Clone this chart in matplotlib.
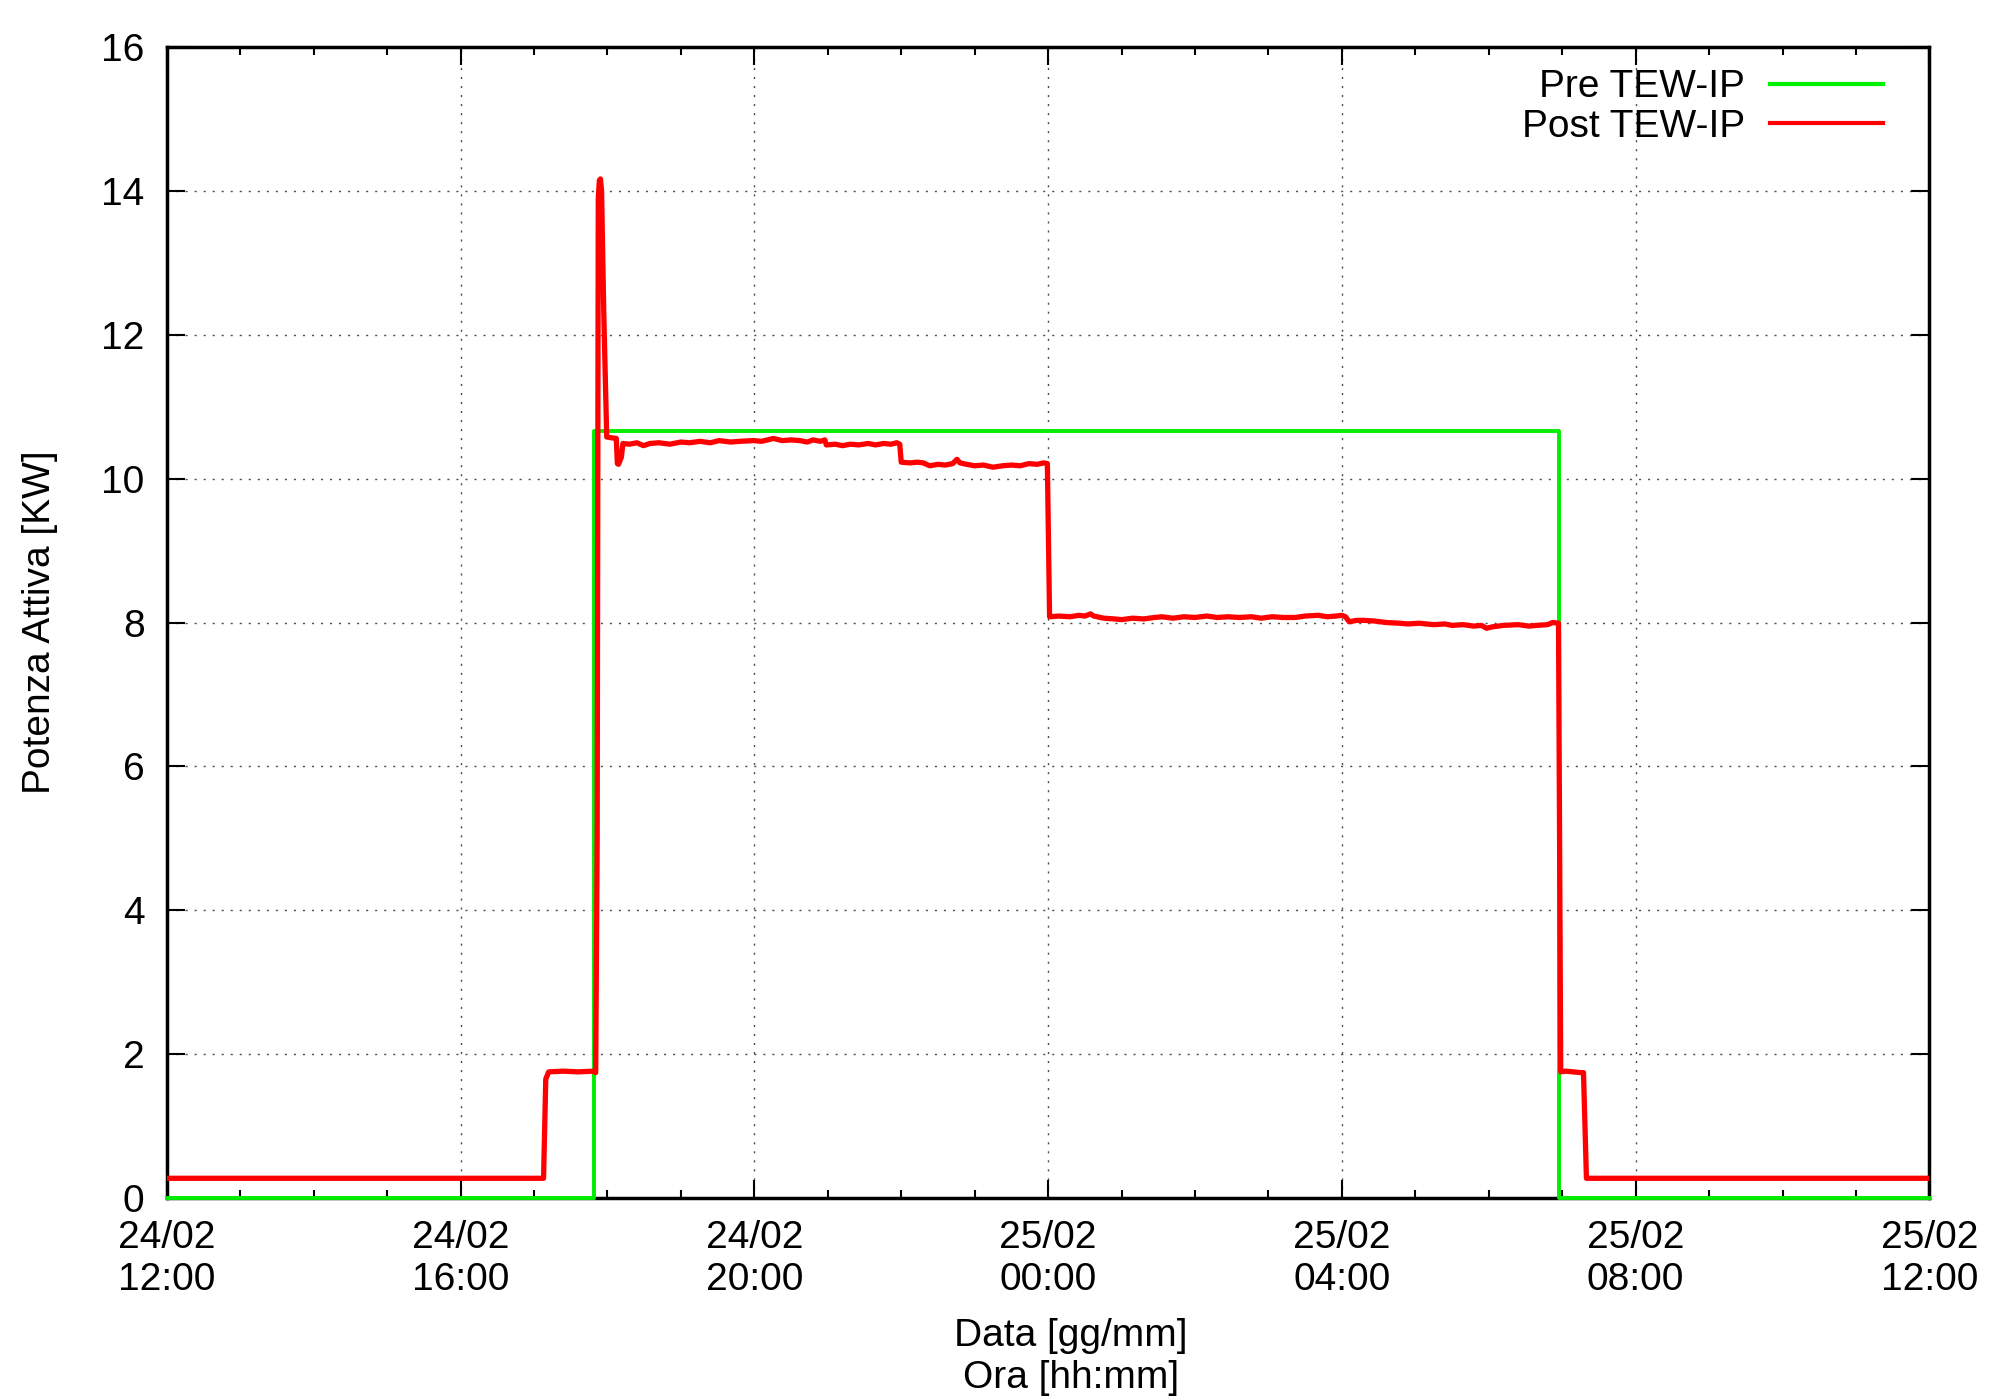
import numpy as np
import matplotlib
matplotlib.use("Agg")
import matplotlib.pyplot as plt

plt.rcParams['font.family'] = ['Liberation Sans', 'DejaVu Sans']
plt.rcParams['font.size'] = 28

# ore dalle 24/02 12:00
x_ticks = [0, 4, 8, 12, 16, 20, 24]
x_labels = ["24/02\n12:00", "24/02\n16:00", "24/02\n20:00", "25/02\n00:00",
            "25/02\n04:00", "25/02\n08:00", "25/02\n12:00"]
y_ticks = [0, 2, 4, 6, 8, 10, 12, 14, 16]

# Pre TEW-IP
pre_t = [0.0, 5.82, 5.82, 18.96, 18.96, 24.0]
pre_p = [0.0, 0.0, 10.66, 10.66, 0.0, 0.0]

# Post TEW-IP
post_t = [0.0, 1.0, 2.0, 3.0, 4.0, 5.13, 5.16, 5.20, 5.40, 5.60,
          5.81, 5.84, 5.86, 5.875, 5.89, 5.905, 5.92, 5.95, 5.99, 6.05,
          6.12, 6.135, 6.15, 6.19, 6.21, 6.30, 6.40, 6.49, 6.58, 6.70,
          6.85, 7.00, 7.12, 7.26, 7.40, 7.52, 7.68, 7.80, 7.99, 8.10,
          8.26, 8.38, 8.50, 8.62, 8.72, 8.80, 8.90, 8.96, 8.98, 9.10,
          9.20, 9.31, 9.42, 9.55, 9.65, 9.76, 9.86, 9.94, 9.98, 10.00,
          10.12, 10.22, 10.30, 10.39, 10.50, 10.60, 10.70, 10.76, 10.80, 10.89,
          11.00, 11.12, 11.25, 11.38, 11.50, 11.62, 11.74, 11.85, 11.94, 11.99,
          12.02, 12.15, 12.30, 12.42, 12.50, 12.58, 12.62, 12.76, 12.90, 13.00,
          13.15, 13.30, 13.45, 13.55, 13.70, 13.85, 14.00, 14.16, 14.30, 14.45,
          14.60, 14.77, 14.90, 15.05, 15.20, 15.37, 15.50, 15.68, 15.80, 15.92,
          16.00, 16.05, 16.10, 16.20, 16.30, 16.45, 16.60, 16.79, 16.90, 17.05,
          17.25, 17.40, 17.50, 17.65, 17.80, 17.90, 17.97, 18.05, 18.20, 18.40,
          18.55, 18.65, 18.80, 18.87, 18.95, 18.98, 19.05, 19.15, 19.25, 19.29,
          19.33, 20.0, 21.0, 22.0, 23.0, 24.0]
post_p = [0.27, 0.27, 0.27, 0.27, 0.27, 0.27, 1.65, 1.75, 1.76, 1.75,
          1.76, 1.74, 5.00, 13.90, 14.15, 14.17, 14.00, 12.30, 10.58, 10.57,
          10.56, 10.21, 10.20, 10.30, 10.49, 10.48, 10.50, 10.46, 10.49, 10.50,
          10.48, 10.51, 10.50, 10.52, 10.50, 10.53, 10.51, 10.52, 10.53, 10.52,
          10.56, 10.53, 10.54, 10.53, 10.51, 10.54, 10.52, 10.54, 10.47, 10.48,
          10.46, 10.48, 10.47, 10.49, 10.47, 10.49, 10.48, 10.50, 10.48, 10.23,
          10.22, 10.23, 10.22, 10.18, 10.20, 10.19, 10.21, 10.27, 10.22, 10.20,
          10.18, 10.19, 10.16, 10.18, 10.19, 10.18, 10.21, 10.20, 10.22, 10.21,
          8.08, 8.09, 8.08, 8.10, 8.09, 8.12, 8.09, 8.06, 8.05, 8.04,
          8.06, 8.05, 8.07, 8.08, 8.06, 8.08, 8.07, 8.09, 8.07, 8.08,
          8.07, 8.08, 8.06, 8.08, 8.07, 8.07, 8.09, 8.10, 8.08, 8.09,
          8.10, 8.08, 8.01, 8.03, 8.03, 8.02, 8.00, 7.99, 7.98, 7.99,
          7.97, 7.98, 7.96, 7.97, 7.95, 7.96, 7.92, 7.94, 7.96, 7.97,
          7.95, 7.96, 7.97, 8.00, 7.99, 1.75, 1.76, 1.75, 1.74, 1.74,
          0.27, 0.27, 0.27, 0.27, 0.27, 0.27]

fig = plt.figure(figsize=(20, 14), dpi=100)
ax = fig.add_axes([0.0834, 0.1445, 0.8813, 0.8217])

ax.plot(pre_t, pre_p, color='#00ee00', lw=2.8, label='Pre TEW-IP', zorder=3, clip_on=False)
ax.plot(post_t, post_p, color='#ff0000', lw=3.8, label='Post TEW-IP', zorder=4)

ax.set_xlim(0, 24)
ax.set_ylim(0, 16)
ax.set_xticks(x_ticks)
ax.set_xticklabels(x_labels)
ax.set_xticks(np.arange(0, 25, 1), minor=True)
ax.set_yticks(y_ticks)

ax.tick_params(which='major', direction='in', length=13, width=1.5,
               top=True, right=True, labelsize=28)
ax.tick_params(axis='x', which='major', pad=16)
ax.tick_params(axis='y', which='major', pad=16)
ax.tick_params(which='minor', direction='in', length=6, width=1.5, top=True)
for s in ax.spines.values():
    s.set_linewidth(2.5)

ax.grid(True, which='major', color='0.3', lw=1.0, linestyle=(0, (1.5, 5)))

ax.set_ylabel('Potenza Attiva [KW]', fontsize=28)
ax.yaxis.set_label_coords(-0.062, 0.5)
ax.set_xlabel('Data [gg/mm]\nOra [hh:mm]', fontsize=28)
ax.xaxis.set_label_coords(0.513, -0.105)

leg = ax.legend(loc='upper right', bbox_to_anchor=(0.9736, 0.981), frameon=False,
                markerfirst=False, handlelength=2.9, handletextpad=0.65,
                borderpad=0, borderaxespad=0, labelspacing=0.1, fontsize=28)
for col in leg._legend_handle_box.get_children():
    col.align = 'right'
for l in leg.get_lines():
    l.set_linewidth(3.0)

fig.savefig('out.png', dpi=100)
